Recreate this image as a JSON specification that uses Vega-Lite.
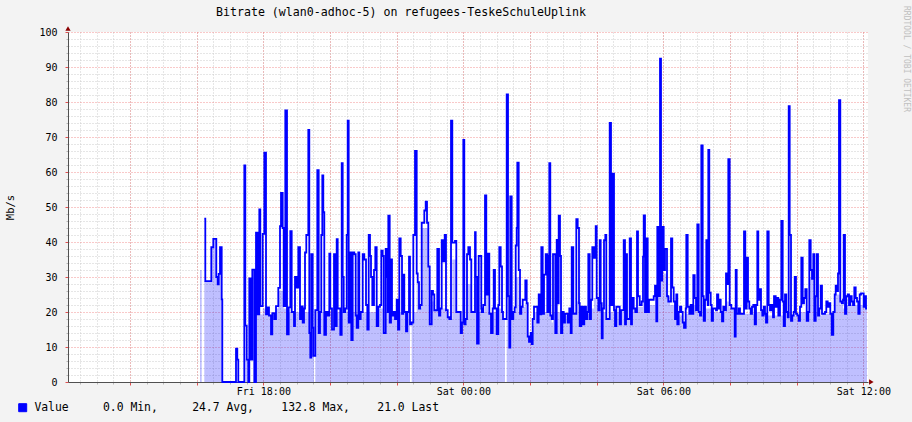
{
"$schema":"https://vega.github.io/schema/vega-lite/v6.json",
"width":800,"height":350,
"autosize":{"type":"none"},
"padding":{"left":68,"top":32,"right":44,"bottom":40},
"background":"#f3f3f3",
"config":{"view":{"fill":"#ffffff","stroke":null},"axis":{"labelFont":"DejaVu Sans Mono","titleFont":"DejaVu Sans Mono"}},
"datasets":{
"line":[
{"t":16.229,"v":46.7,"s":"Value"},{"t":16.259,"v":28.8,"s":"Value"},{"t":16.439,"v":38.5,"s":"Value"},{"t":16.499,"v":40.9,"s":"Value"},{"t":16.589,"v":30,"s":"Value"},{"t":16.631,"v":27.9,"s":"Value"},{"t":16.661,"v":30.9,"s":"Value"},{"t":16.7,"v":38.5,"s":"Value"},{"t":16.751,"v":23.6,"s":"Value"},{"t":16.769,"v":0,"s":"Value"},
{"t":17.18,"v":9.5,"s":"Value"},{"t":17.219,"v":6.4,"s":"Value"},{"t":17.249,"v":0,"s":"Value"},{"t":17.429,"v":61.9,"s":"Value"},{"t":17.459,"v":16.1,"s":"Value"},{"t":17.501,"v":6.4,"s":"Value"},{"t":17.549,"v":0,"s":"Value"},{"t":17.579,"v":29.6,"s":"Value"},{"t":17.621,"v":6.4,"s":"Value"},{"t":17.669,"v":32.1,"s":"Value"},
{"t":17.729,"v":0,"s":"Value"},{"t":17.78,"v":42.7,"s":"Value"},{"t":17.831,"v":19.3,"s":"Value"},{"t":17.879,"v":49.3,"s":"Value"},{"t":17.909,"v":21.7,"s":"Value"},{"t":17.981,"v":42.3,"s":"Value"},{"t":18.029,"v":65.5,"s":"Value"},{"t":18.08,"v":19.3,"s":"Value"},{"t":18.131,"v":21.3,"s":"Value"},{"t":18.17,"v":19,"s":"Value"},
{"t":18.23,"v":13.6,"s":"Value"},{"t":18.269,"v":19.7,"s":"Value"},{"t":18.329,"v":18,"s":"Value"},{"t":18.38,"v":21.7,"s":"Value"},{"t":18.449,"v":26.9,"s":"Value"},{"t":18.5,"v":44.5,"s":"Value"},{"t":18.53,"v":54,"s":"Value"},{"t":18.581,"v":44,"s":"Value"},{"t":18.611,"v":21.7,"s":"Value"},{"t":18.659,"v":77.6,"s":"Value"},
{"t":18.71,"v":13.6,"s":"Value"},{"t":18.761,"v":21.3,"s":"Value"},{"t":18.809,"v":43.1,"s":"Value"},{"t":18.851,"v":20,"s":"Value"},{"t":18.92,"v":16,"s":"Value"},{"t":18.95,"v":30,"s":"Value"},{"t":19.001,"v":27,"s":"Value"},{"t":19.049,"v":38.5,"s":"Value"},{"t":19.1,"v":18,"s":"Value"},{"t":19.151,"v":21.6,"s":"Value"},
{"t":19.181,"v":17,"s":"Value"},{"t":19.22,"v":21,"s":"Value"},{"t":19.25,"v":37,"s":"Value"},{"t":19.289,"v":42,"s":"Value"},{"t":19.349,"v":72,"s":"Value"},{"t":19.379,"v":14,"s":"Value"},{"t":19.409,"v":7,"s":"Value"},{"t":19.439,"v":36.5,"s":"Value"},{"t":19.481,"v":15.5,"s":"Value"},{"t":19.499,"v":7.5,"s":"Value"},
{"t":19.559,"v":20.5,"s":"Value"},{"t":19.619,"v":60.5,"s":"Value"},{"t":19.661,"v":14,"s":"Value"},{"t":19.7,"v":20,"s":"Value"},{"t":19.739,"v":42,"s":"Value"},{"t":19.769,"v":59,"s":"Value"},{"t":19.799,"v":48.5,"s":"Value"},{"t":19.829,"v":13.5,"s":"Value"},{"t":19.88,"v":20,"s":"Value"},{"t":19.931,"v":19,"s":"Value"},
{"t":19.979,"v":36.7,"s":"Value"},{"t":20.009,"v":21,"s":"Value"},{"t":20.06,"v":15,"s":"Value"},{"t":20.12,"v":36.5,"s":"Value"},{"t":20.159,"v":16,"s":"Value"},{"t":20.201,"v":40.8,"s":"Value"},{"t":20.231,"v":21,"s":"Value"},{"t":20.279,"v":21,"s":"Value"},{"t":20.309,"v":13.5,"s":"Value"},{"t":20.351,"v":62.5,"s":"Value"},
{"t":20.381,"v":30,"s":"Value"},{"t":20.411,"v":20,"s":"Value"},{"t":20.459,"v":21,"s":"Value"},{"t":20.501,"v":42,"s":"Value"},{"t":20.531,"v":74.7,"s":"Value"},{"t":20.561,"v":17,"s":"Value"},{"t":20.6,"v":37,"s":"Value"},{"t":20.639,"v":12,"s":"Value"},{"t":20.681,"v":37,"s":"Value"},{"t":20.729,"v":36.5,"s":"Value"},
{"t":20.771,"v":19,"s":"Value"},{"t":20.801,"v":15.5,"s":"Value"},{"t":20.849,"v":37,"s":"Value"},{"t":20.879,"v":18,"s":"Value"},{"t":20.921,"v":20,"s":"Value"},{"t":20.981,"v":36.5,"s":"Value"},{"t":21.029,"v":35,"s":"Value"},{"t":21.08,"v":22,"s":"Value"},{"t":21.119,"v":15,"s":"Value"},{"t":21.161,"v":42,"s":"Value"},
{"t":21.2,"v":36,"s":"Value"},{"t":21.23,"v":30,"s":"Value"},{"t":21.269,"v":22,"s":"Value"},{"t":21.32,"v":32,"s":"Value"},{"t":21.359,"v":38.5,"s":"Value"},{"t":21.401,"v":16,"s":"Value"},{"t":21.449,"v":21.5,"s":"Value"},{"t":21.5,"v":22,"s":"Value"},{"t":21.539,"v":37.5,"s":"Value"},{"t":21.581,"v":36,"s":"Value"},
{"t":21.611,"v":14,"s":"Value"},{"t":21.671,"v":38,"s":"Value"},{"t":21.71,"v":30,"s":"Value"},{"t":21.731,"v":20,"s":"Value"},{"t":21.749,"v":47.5,"s":"Value"},{"t":21.791,"v":17,"s":"Value"},{"t":21.83,"v":35,"s":"Value"},{"t":21.86,"v":19,"s":"Value"},{"t":21.911,"v":20,"s":"Value"},{"t":21.95,"v":18,"s":"Value"},
{"t":22.001,"v":23.5,"s":"Value"},{"t":22.04,"v":15,"s":"Value"},{"t":22.079,"v":41,"s":"Value"},{"t":22.121,"v":36,"s":"Value"},{"t":22.16,"v":19.5,"s":"Value"},{"t":22.199,"v":30.7,"s":"Value"},{"t":22.229,"v":20,"s":"Value"},{"t":22.28,"v":14.5,"s":"Value"},{"t":22.319,"v":20,"s":"Value"},{"t":22.37,"v":35.8,"s":"Value"},
{"t":22.4,"v":16.5,"s":"Value"},{"t":22.451,"v":17,"s":"Value"},{"t":22.499,"v":42,"s":"Value"},{"t":22.55,"v":66,"s":"Value"},{"t":22.601,"v":31,"s":"Value"},{"t":22.631,"v":28.5,"s":"Value"},{"t":22.67,"v":21,"s":"Value"},{"t":22.709,"v":22,"s":"Value"},{"t":22.751,"v":45.5,"s":"Value"},{"t":22.829,"v":49,"s":"Value"},
{"t":22.871,"v":51.5,"s":"Value"},{"t":22.91,"v":45.5,"s":"Value"},{"t":22.949,"v":33,"s":"Value"},{"t":22.991,"v":16.5,"s":"Value"},{"t":23.051,"v":26,"s":"Value"},{"t":23.09,"v":25,"s":"Value"},{"t":23.129,"v":20.5,"s":"Value"},{"t":23.219,"v":38,"s":"Value"},{"t":23.27,"v":19,"s":"Value"},{"t":23.309,"v":21,"s":"Value"},
{"t":23.351,"v":40.5,"s":"Value"},{"t":23.399,"v":34.5,"s":"Value"},{"t":23.441,"v":42,"s":"Value"},{"t":23.48,"v":20.5,"s":"Value"},{"t":23.531,"v":18.5,"s":"Value"},{"t":23.579,"v":18,"s":"Value"},{"t":23.63,"v":74.7,"s":"Value"},{"t":23.669,"v":39.8,"s":"Value"},{"t":23.75,"v":40.3,"s":"Value"},{"t":23.789,"v":20,"s":"Value"},
{"t":23.921,"v":14,"s":"Value"},{"t":23.96,"v":17,"s":"Value"},{"t":23.999,"v":69.2,"s":"Value"},{"t":24.029,"v":16.5,"s":"Value"},{"t":24.071,"v":18,"s":"Value"},{"t":24.11,"v":36.5,"s":"Value"},{"t":24.149,"v":38.5,"s":"Value"},{"t":24.2,"v":35,"s":"Value"},{"t":24.239,"v":20,"s":"Value"},{"t":24.35,"v":42.8,"s":"Value"},
{"t":24.371,"v":30,"s":"Value"},{"t":24.41,"v":11,"s":"Value"},{"t":24.461,"v":36,"s":"Value"},{"t":24.539,"v":21,"s":"Value"},{"t":24.551,"v":20,"s":"Value"},{"t":24.599,"v":22,"s":"Value"},{"t":24.65,"v":53.3,"s":"Value"},{"t":24.689,"v":25,"s":"Value"},{"t":24.74,"v":36.7,"s":"Value"},{"t":24.779,"v":19.5,"s":"Value"},
{"t":24.83,"v":14,"s":"Value"},{"t":24.881,"v":21,"s":"Value"},{"t":24.911,"v":32,"s":"Value"},{"t":24.95,"v":21,"s":"Value"},{"t":25.001,"v":13.7,"s":"Value"},{"t":25.049,"v":22,"s":"Value"},{"t":25.079,"v":38.5,"s":"Value"},{"t":25.121,"v":33,"s":"Value"},{"t":25.16,"v":20,"s":"Value"},{"t":25.19,"v":18,"s":"Value"},
{"t":25.301,"v":82.2,"s":"Value"},{"t":25.34,"v":24.5,"s":"Value"},{"t":25.379,"v":9.8,"s":"Value"},{"t":25.409,"v":53,"s":"Value"},{"t":25.451,"v":18,"s":"Value"},{"t":25.499,"v":20,"s":"Value"},{"t":25.541,"v":21.3,"s":"Value"},{"t":25.571,"v":39,"s":"Value"},{"t":25.601,"v":44,"s":"Value"},{"t":25.619,"v":62.7,"s":"Value"},
{"t":25.661,"v":32,"s":"Value"},{"t":25.7,"v":19.5,"s":"Value"},{"t":25.739,"v":21.5,"s":"Value"},{"t":25.781,"v":23.5,"s":"Value"},{"t":25.859,"v":29,"s":"Value"},{"t":25.901,"v":22.5,"s":"Value"},{"t":25.931,"v":13,"s":"Value"},{"t":25.97,"v":11.5,"s":"Value"},{"t":26.021,"v":14,"s":"Value"},{"t":26.051,"v":10.8,"s":"Value"},
{"t":26.081,"v":18,"s":"Value"},{"t":26.12,"v":21.5,"s":"Value"},{"t":26.219,"v":17,"s":"Value"},{"t":26.261,"v":25,"s":"Value"},{"t":26.291,"v":19.3,"s":"Value"},{"t":26.339,"v":38.5,"s":"Value"},{"t":26.381,"v":19.5,"s":"Value"},{"t":26.42,"v":30.7,"s":"Value"},{"t":26.471,"v":36.5,"s":"Value"},{"t":26.519,"v":20,"s":"Value"},
{"t":26.561,"v":36,"s":"Value"},{"t":26.579,"v":62.5,"s":"Value"},{"t":26.609,"v":19,"s":"Value"},{"t":26.651,"v":18,"s":"Value"},{"t":26.69,"v":36.5,"s":"Value"},{"t":26.759,"v":14,"s":"Value"},{"t":26.801,"v":40.6,"s":"Value"},{"t":26.831,"v":22.5,"s":"Value"},{"t":26.861,"v":47.5,"s":"Value"},{"t":26.9,"v":36,"s":"Value"},
{"t":26.93,"v":14,"s":"Value"},{"t":26.969,"v":20,"s":"Value"},{"t":27.011,"v":17,"s":"Value"},{"t":27.05,"v":19.5,"s":"Value"},{"t":27.131,"v":17,"s":"Value"},{"t":27.179,"v":21,"s":"Value"},{"t":27.221,"v":14,"s":"Value"},{"t":27.251,"v":38.5,"s":"Value"},{"t":27.299,"v":19.5,"s":"Value"},{"t":27.389,"v":46.5,"s":"Value"},
{"t":27.431,"v":44,"s":"Value"},{"t":27.47,"v":22.5,"s":"Value"},{"t":27.491,"v":16,"s":"Value"},{"t":27.539,"v":21.5,"s":"Value"},{"t":27.581,"v":16.5,"s":"Value"},{"t":27.629,"v":21.5,"s":"Value"},{"t":27.68,"v":18,"s":"Value"},{"t":27.719,"v":20,"s":"Value"},{"t":27.749,"v":36.5,"s":"Value"},{"t":27.791,"v":18,"s":"Value"},
{"t":27.83,"v":23.5,"s":"Value"},{"t":27.869,"v":38.5,"s":"Value"},{"t":27.92,"v":35.5,"s":"Value"},{"t":27.971,"v":44.5,"s":"Value"},{"t":28.001,"v":24,"s":"Value"},{"t":28.049,"v":20.5,"s":"Value"},{"t":28.091,"v":40.5,"s":"Value"},{"t":28.121,"v":22.5,"s":"Value"},{"t":28.151,"v":12.5,"s":"Value"},{"t":28.181,"v":21,"s":"Value"},
{"t":28.22,"v":40.5,"s":"Value"},{"t":28.259,"v":42,"s":"Value"},{"t":28.289,"v":18,"s":"Value"},{"t":28.391,"v":74,"s":"Value"},{"t":28.43,"v":22,"s":"Value"},{"t":28.481,"v":59.5,"s":"Value"},{"t":28.52,"v":20.5,"s":"Value"},{"t":28.55,"v":16,"s":"Value"},{"t":28.589,"v":21.5,"s":"Value"},{"t":28.691,"v":16.5,"s":"Value"},
{"t":28.73,"v":20.5,"s":"Value"},{"t":28.811,"v":40.5,"s":"Value"},{"t":28.85,"v":16.5,"s":"Value"},{"t":28.88,"v":36.5,"s":"Value"},{"t":28.91,"v":18,"s":"Value"},{"t":28.991,"v":41,"s":"Value"},{"t":29.03,"v":16.5,"s":"Value"},{"t":29.06,"v":24,"s":"Value"},{"t":29.111,"v":21,"s":"Value"},{"t":29.159,"v":20,"s":"Value"},
{"t":29.21,"v":43,"s":"Value"},{"t":29.24,"v":24.5,"s":"Value"},{"t":29.291,"v":22,"s":"Value"},{"t":29.351,"v":23,"s":"Value"},{"t":29.39,"v":35.8,"s":"Value"},{"t":29.411,"v":47.6,"s":"Value"},{"t":29.45,"v":20,"s":"Value"},{"t":29.489,"v":41,"s":"Value"},{"t":29.531,"v":20,"s":"Value"},{"t":29.57,"v":23.5,"s":"Value"},
{"t":29.711,"v":24.5,"s":"Value"},{"t":29.75,"v":27.5,"s":"Value"},{"t":29.789,"v":17.3,"s":"Value"},{"t":29.819,"v":44.3,"s":"Value"},{"t":29.861,"v":24.5,"s":"Value"},{"t":29.9,"v":92.4,"s":"Value"},{"t":29.93,"v":29,"s":"Value"},{"t":29.969,"v":44.3,"s":"Value"},{"t":30.011,"v":32,"s":"Value"},{"t":30.05,"v":38,"s":"Value"},
{"t":30.11,"v":24.5,"s":"Value"},{"t":30.149,"v":23,"s":"Value"},{"t":30.23,"v":41,"s":"Value"},{"t":30.269,"v":27,"s":"Value"},{"t":30.311,"v":23,"s":"Value"},{"t":30.35,"v":18,"s":"Value"},{"t":30.389,"v":25,"s":"Value"},{"t":30.419,"v":16.5,"s":"Value"},{"t":30.461,"v":20,"s":"Value"},{"t":30.5,"v":21.5,"s":"Value"},
{"t":30.539,"v":20,"s":"Value"},{"t":30.581,"v":17,"s":"Value"},{"t":30.62,"v":15.5,"s":"Value"},{"t":30.671,"v":21,"s":"Value"},{"t":30.689,"v":42,"s":"Value"},{"t":30.731,"v":21.5,"s":"Value"},{"t":30.779,"v":19.5,"s":"Value"},{"t":30.821,"v":22,"s":"Value"},{"t":30.869,"v":19.5,"s":"Value"},{"t":30.899,"v":30.5,"s":"Value"},
{"t":30.941,"v":24,"s":"Value"},{"t":30.98,"v":20.5,"s":"Value"},{"t":31.019,"v":45,"s":"Value"},{"t":31.061,"v":20,"s":"Value"},{"t":31.1,"v":19,"s":"Value"},{"t":31.139,"v":67.6,"s":"Value"},{"t":31.181,"v":24.5,"s":"Value"},{"t":31.211,"v":17.5,"s":"Value"},{"t":31.25,"v":23.5,"s":"Value"},{"t":31.289,"v":40.5,"s":"Value"},
{"t":31.331,"v":22,"s":"Value"},{"t":31.349,"v":66.3,"s":"Value"},{"t":31.379,"v":25.5,"s":"Value"},{"t":31.421,"v":22,"s":"Value"},{"t":31.451,"v":17.5,"s":"Value"},{"t":31.49,"v":21,"s":"Value"},{"t":31.58,"v":20.5,"s":"Value"},{"t":31.61,"v":25,"s":"Value"},{"t":31.649,"v":21,"s":"Value"},{"t":31.691,"v":23.5,"s":"Value"},
{"t":31.721,"v":20,"s":"Value"},{"t":31.76,"v":17.3,"s":"Value"},{"t":31.799,"v":21.5,"s":"Value"},{"t":31.85,"v":20.5,"s":"Value"},{"t":31.88,"v":31,"s":"Value"},{"t":31.919,"v":28,"s":"Value"},{"t":31.949,"v":63.7,"s":"Value"},{"t":31.991,"v":22,"s":"Value"},{"t":32.039,"v":21,"s":"Value"},{"t":32.141,"v":13,"s":"Value"},
{"t":32.171,"v":32,"s":"Value"},{"t":32.201,"v":19.5,"s":"Value"},{"t":32.261,"v":21,"s":"Value"},{"t":32.3,"v":19.5,"s":"Value"},{"t":32.42,"v":43,"s":"Value"},{"t":32.459,"v":21,"s":"Value"},{"t":32.501,"v":35.5,"s":"Value"},{"t":32.54,"v":23,"s":"Value"},{"t":32.579,"v":21,"s":"Value"},{"t":32.621,"v":19.5,"s":"Value"},
{"t":32.66,"v":21.5,"s":"Value"},{"t":32.699,"v":22,"s":"Value"},{"t":32.741,"v":16.5,"s":"Value"},{"t":32.78,"v":22,"s":"Value"},{"t":32.819,"v":43,"s":"Value"},{"t":32.849,"v":23.5,"s":"Value"},{"t":32.891,"v":26.5,"s":"Value"},{"t":32.93,"v":20.5,"s":"Value"},{"t":32.969,"v":19,"s":"Value"},{"t":33.011,"v":21.5,"s":"Value"},
{"t":33.05,"v":19.5,"s":"Value"},{"t":33.08,"v":17,"s":"Value"},{"t":33.119,"v":43,"s":"Value"},{"t":33.161,"v":22,"s":"Value"},{"t":33.2,"v":20.5,"s":"Value"},{"t":33.239,"v":22,"s":"Value"},{"t":33.29,"v":18.5,"s":"Value"},{"t":33.32,"v":24.5,"s":"Value"},{"t":33.371,"v":21.5,"s":"Value"},{"t":33.41,"v":24,"s":"Value"},
{"t":33.449,"v":19,"s":"Value"},{"t":33.5,"v":23.5,"s":"Value"},{"t":33.539,"v":46,"s":"Value"},{"t":33.581,"v":23,"s":"Value"},{"t":33.611,"v":16,"s":"Value"},{"t":33.65,"v":25,"s":"Value"},{"t":33.689,"v":20,"s":"Value"},{"t":33.731,"v":18.5,"s":"Value"},{"t":33.761,"v":78.8,"s":"Value"},{"t":33.791,"v":42,"s":"Value"},
{"t":33.83,"v":17.5,"s":"Value"},{"t":33.869,"v":19,"s":"Value"},{"t":33.911,"v":20,"s":"Value"},{"t":33.941,"v":30,"s":"Value"},{"t":33.98,"v":19.5,"s":"Value"},{"t":34.019,"v":19,"s":"Value"},{"t":34.061,"v":17.5,"s":"Value"},{"t":34.1,"v":21.5,"s":"Value"},{"t":34.139,"v":35.5,"s":"Value"},{"t":34.181,"v":22.5,"s":"Value"},
{"t":34.22,"v":24,"s":"Value"},{"t":34.259,"v":26.5,"s":"Value"},{"t":34.301,"v":17.5,"s":"Value"},{"t":34.349,"v":20,"s":"Value"},{"t":34.379,"v":40.5,"s":"Value"},{"t":34.421,"v":32,"s":"Value"},{"t":34.46,"v":29.5,"s":"Value"},{"t":34.499,"v":36.5,"s":"Value"},{"t":34.529,"v":17.5,"s":"Value"},{"t":34.571,"v":24.5,"s":"Value"},
{"t":34.601,"v":36.5,"s":"Value"},{"t":34.64,"v":19,"s":"Value"},{"t":34.679,"v":21,"s":"Value"},{"t":34.721,"v":27.5,"s":"Value"},{"t":34.76,"v":19.5,"s":"Value"},{"t":34.85,"v":20,"s":"Value"},{"t":34.889,"v":23,"s":"Value"},{"t":34.931,"v":21.5,"s":"Value"},{"t":34.97,"v":22.5,"s":"Value"},{"t":35.009,"v":19.5,"s":"Value"},
{"t":35.051,"v":13.5,"s":"Value"},{"t":35.099,"v":20,"s":"Value"},{"t":35.141,"v":25,"s":"Value"},{"t":35.171,"v":27.5,"s":"Value"},{"t":35.21,"v":26,"s":"Value"},{"t":35.24,"v":31,"s":"Value"},{"t":35.27,"v":80.5,"s":"Value"},{"t":35.309,"v":23,"s":"Value"},{"t":35.351,"v":22.5,"s":"Value"},{"t":35.39,"v":23.5,"s":"Value"},
{"t":35.411,"v":42,"s":"Value"},{"t":35.45,"v":19.5,"s":"Value"},{"t":35.489,"v":24.5,"s":"Value"},{"t":35.531,"v":25,"s":"Value"},{"t":35.57,"v":22,"s":"Value"},{"t":35.609,"v":24.5,"s":"Value"},{"t":35.651,"v":23,"s":"Value"},{"t":35.69,"v":22,"s":"Value"},{"t":35.729,"v":27,"s":"Value"},{"t":35.771,"v":24,"s":"Value"},
{"t":35.81,"v":23,"s":"Value"},{"t":35.849,"v":19.5,"s":"Value"},{"t":35.891,"v":25,"s":"Value"},{"t":35.93,"v":25.3,"s":"Value"},{"t":36.011,"v":21.5,"s":"Value"},{"t":36.05,"v":24.5,"s":"Value"},{"t":36.08,"v":21,"s":"Value"},{"t":36.11,"v":21,"s":"Value"}
],
"area":[
{"t":16.1,"a":32},{"t":16.151,"a":0},{"t":16.229,"a":28.8},{"t":16.439,"a":38.5},{"t":16.499,"a":40.9},{"t":16.589,"a":30},{"t":16.631,"a":27.9},{"t":16.661,"a":30.9},{"t":16.7,"a":38.5},{"t":16.751,"a":23.6},{"t":16.769,"a":0},
{"t":17.459,"a":6.4},{"t":17.549,"a":0},{"t":17.78,"a":19.3},{"t":17.981,"a":21},{"t":18.08,"a":19.3},{"t":18.23,"a":13.6},{"t":18.269,"a":19.5},{"t":18.38,"a":21},{"t":18.449,"a":26},{"t":18.611,"a":21},
{"t":18.71,"a":13.6},{"t":18.761,"a":20},{"t":18.92,"a":16},{"t":18.95,"a":20},{"t":19.1,"a":18},{"t":19.22,"a":20},{"t":19.379,"a":14},{"t":19.409,"a":7},{"t":19.439,"a":15},{"t":19.499,"a":7.5},
{"t":19.52,"a":0},{"t":19.559,"a":20},{"t":19.661,"a":14},{"t":19.7,"a":20},{"t":19.829,"a":13.5},{"t":19.88,"a":20},{"t":20.06,"a":15},{"t":20.12,"a":20},{"t":20.159,"a":16},{"t":20.201,"a":20},
{"t":20.309,"a":13.5},{"t":20.351,"a":20},{"t":20.561,"a":17},{"t":20.6,"a":20},{"t":20.639,"a":12},{"t":20.681,"a":20},{"t":20.801,"a":15.5},{"t":20.849,"a":18},{"t":20.921,"a":20},{"t":21.119,"a":15},
{"t":21.161,"a":20},{"t":21.401,"a":16},{"t":21.449,"a":21},{"t":21.611,"a":14},{"t":21.671,"a":20},{"t":21.791,"a":17},{"t":21.83,"a":19},{"t":22.04,"a":15},{"t":22.079,"a":20},{"t":22.28,"a":14.5},
{"t":22.319,"a":20},{"t":22.4,"a":0},{"t":22.451,"a":17},{"t":22.499,"a":20},{"t":22.601,"a":28.5},{"t":22.67,"a":21},{"t":22.751,"a":44},{"t":22.949,"a":33},{"t":22.991,"a":16.5},{"t":23.051,"a":23},
{"t":23.129,"a":20.5},{"t":23.27,"a":19},{"t":23.309,"a":21},{"t":23.48,"a":20},{"t":23.531,"a":18.5},{"t":23.63,"a":18},{"t":23.669,"a":35},{"t":23.789,"a":20},{"t":23.921,"a":14},{"t":23.96,"a":17},
{"t":24.029,"a":16.5},{"t":24.11,"a":28},{"t":24.239,"a":20},{"t":24.35,"a":28},{"t":24.38,"a":11},{"t":24.47,"a":20},{"t":24.65,"a":25},{"t":24.74,"a":20},{"t":24.83,"a":14},{"t":24.881,"a":20},
{"t":25.001,"a":13.7},{"t":25.049,"a":21},{"t":25.19,"a":18},{"t":25.25,"a":0},{"t":25.301,"a":18},{"t":25.34,"a":24},{"t":25.379,"a":9.8},{"t":25.409,"a":18},{"t":25.499,"a":20},{"t":25.571,"a":30},
{"t":25.661,"a":20},{"t":25.739,"a":21.5},{"t":25.859,"a":22.5},{"t":25.931,"a":13},{"t":25.97,"a":11.5},{"t":26.051,"a":10.8},{"t":26.081,"a":16},{"t":26.12,"a":20},{"t":26.219,"a":17},{"t":26.261,"a":20},
{"t":26.609,"a":19},{"t":26.651,"a":17},{"t":26.69,"a":20},{"t":26.759,"a":14},{"t":26.801,"a":20},{"t":26.93,"a":14},{"t":26.969,"a":19},{"t":27.131,"a":17},{"t":27.179,"a":19},{"t":27.221,"a":14},
{"t":27.251,"a":20},{"t":27.389,"a":23},{"t":27.491,"a":16},{"t":27.539,"a":20},{"t":27.581,"a":16.5},{"t":27.629,"a":20},{"t":27.68,"a":18},{"t":27.719,"a":19.5},{"t":27.791,"a":18},{"t":27.83,"a":21},
{"t":27.92,"a":24},{"t":28.001,"a":22},{"t":28.049,"a":20.5},{"t":28.151,"a":12.5},{"t":28.181,"a":20},{"t":28.289,"a":18},{"t":28.391,"a":20},{"t":28.55,"a":16},{"t":28.589,"a":20},{"t":28.691,"a":16.5},
{"t":28.73,"a":20},{"t":28.85,"a":16.5},{"t":28.88,"a":20},{"t":28.91,"a":18},{"t":28.991,"a":20},{"t":29.03,"a":16.5},{"t":29.06,"a":21},{"t":29.24,"a":21.5},{"t":29.39,"a":23},{"t":29.45,"a":20},
{"t":29.57,"a":22},{"t":29.75,"a":24},{"t":29.789,"a":17.3},{"t":29.819,"a":24},{"t":29.93,"a":29},{"t":30.011,"a":31},{"t":30.11,"a":24.5},{"t":30.2,"a":22},{"t":30.35,"a":18},{"t":30.389,"a":20},
{"t":30.419,"a":16.5},{"t":30.461,"a":19},{"t":30.581,"a":17},{"t":30.62,"a":15.5},{"t":30.671,"a":19.5},{"t":30.899,"a":22},{"t":30.98,"a":20},{"t":31.139,"a":19},{"t":31.181,"a":24},{"t":31.211,"a":17.5},
{"t":31.25,"a":21},{"t":31.451,"a":17.5},{"t":31.49,"a":20},{"t":31.76,"a":17.3},{"t":31.799,"a":20},{"t":31.88,"a":23},{"t":31.991,"a":21},{"t":32.141,"a":13},{"t":32.171,"a":19.5},{"t":32.741,"a":16.5},
{"t":32.78,"a":20},{"t":33.08,"a":17},{"t":33.119,"a":19},{"t":33.611,"a":16},{"t":33.65,"a":20},{"t":33.83,"a":17.5},{"t":33.869,"a":19},{"t":34.061,"a":17.5},{"t":34.1,"a":20},{"t":34.301,"a":17.5},
{"t":34.349,"a":20},{"t":34.379,"a":30},{"t":34.529,"a":17.5},{"t":34.571,"a":20},{"t":34.64,"a":19},{"t":34.76,"a":19.5},{"t":35.051,"a":13.5},{"t":35.099,"a":20},{"t":35.141,"a":25},{"t":35.309,"a":22},
{"t":35.39,"a":21},{"t":35.45,"a":19.5},{"t":35.489,"a":22},{"t":36.11,"a":22}
],
"arrows":[{"t":12.14,"v":101,"shp":"triangle-up"},{"t":36.24,"v":0,"shp":"triangle-right"}]
},
"layer":[
{
"data":{"name":"area"},
"mark":{"type":"area","interpolate":"step-after","color":"#0000ff","fillOpacity":0.25},
"encoding":{
"x":{"field":"t","type":"quantitative","scale":{"domain":[12.14,36.14],"nice":false,"zero":false},
"axis":{"orient":"bottom","values":[12.5,13,13.5,14,14.5,15,15.5,16,16.5,17,17.5,18,18.5,19,19.5,20,20.5,21,21.5,22,22.5,23,23.5,24,24.5,25,25.5,26,26.5,27,27.5,28,28.5,29,29.5,30,30.5,31,31.5,32,32.5,33,33.5,34,34.5,35,35.5,36],"grid":true,"gridColor":"#cccccc","gridDash":[1,2],"labels":false,"ticks":true,"tickColor":"#b8b8b8","tickSize":2,"domain":false,"title":null}},
"y":{"field":"a","type":"quantitative","scale":{"domain":[0,100],"nice":false},
"axis":{"orient":"left","values":[2,4,6,8,12,14,16,18,22,24,26,28,32,34,36,38,42,44,46,48,52,54,56,58,62,64,66,68,72,74,76,78,82,84,86,88,92,94,96,98],"grid":true,"gridColor":"#cccccc","gridDash":[1,2],"labels":false,"ticks":true,"tickColor":"#b8b8b8","tickSize":2,"domain":false,"title":null}}
}
},
{
"data":{"name":"line"},
"mark":{"type":"line","interpolate":"step-after","strokeWidth":1.8},
"encoding":{
"x":{"field":"t","type":"quantitative",
"axis":{"orient":"bottom","values":[14,16,18,20,22,24,26,28,30,32,34,36],"labelExpr":"datum.value==18?'Fri 18:00':datum.value==24?'Sat 00:00':datum.value==30?'Sat 06:00':datum.value==36?'Sat 12:00':''","labelOverlap":false,"grid":true,"gridColor":"#f08080","gridDash":[1,2],"gridOpacity":0.85,"ticks":true,"tickColor":"#e05050","tickSize":3,"domain":true,"domainColor":"#505050","labelFontSize":10,"labelColor":"#000000","labelPadding":1,"title":null}},
"y":{"field":"v","type":"quantitative",
"axis":{"orient":"left","values":[0,10,20,30,40,50,60,70,80,90,100],"grid":true,"gridColor":"#f08080","gridDash":[1,2],"gridOpacity":0.85,"ticks":true,"tickColor":"#e05050","tickSize":3,"domain":true,"domainColor":"#505050","labelFontSize":10,"labelColor":"#000000","labelPadding":8,"title":"Mb/s","titleFontSize":10.5,"titleFontWeight":"normal","titleColor":"#000000","titleAngle":-90,"titleX":-58,"titleY":175,"titleAlign":"center","titleBaseline":"middle"}},
"color":{"field":"s","type":"nominal","scale":{"domain":["Value"],"range":["#0000ff"]},
"legend":{"orient":"none","legendX":-51,"legendY":370,"padding":0,"title":null,"labelFont":"DejaVu Sans Mono","labelFontSize":11.4,"labelColor":"#000000","labelOffset":6,"labelLimit":0,"symbolType":"square","symbolSize":64,
"labelExpr":"'Value\u00a0\u00a0\u00a0\u00a0\u00a00.0\u00a0Min,\u00a0\u00a0\u00a0\u00a0\u00a024.7\u00a0Avg,\u00a0\u00a0\u00a0\u00a0132.8\u00a0Max,\u00a0\u00a0\u00a0\u00a021.0\u00a0Last'",
"encode":{"symbols":{"update":{"fill":{"value":"#0000ff"},"stroke":{"value":"#000000"},"strokeWidth":{"value":1},"opacity":{"value":1}}}}}}
}
},
{
"data":{"name":"arrows"},
"mark":{"type":"point","filled":true,"opacity":1,"color":"#8b0000","size":28},
"encoding":{
"x":{"field":"t","type":"quantitative","axis":{"orient":"top","labels":false,"ticks":false,"domain":false,"grid":false,"title":"Bitrate (wlan0-adhoc-5) on refugees-TeskeSchuleUplink","titleFont":"DejaVu Sans Mono","titleFontSize":11.6,"titleFontWeight":"normal","titleColor":"#000000","titleX":332.5,"titleY":-17,"titleAlign":"center","titleBaseline":"alphabetic"}},
"y":{"field":"v","type":"quantitative","axis":{"orient":"right","labels":false,"ticks":false,"domain":false,"grid":false,"title":"RRDTOOL / TOBI OETIKER","titleFont":"DejaVu Sans Mono","titleFontSize":8,"titleFontWeight":"normal","titleColor":"#c0c0c0","titleAngle":90,"titleX":37,"titleY":26.5,"titleAlign":"center","titleBaseline":"middle"}},
"shape":{"field":"shp","type":"nominal","scale":null,"legend":null}
}
}
],
"resolve":{"axis":{"x":"independent","y":"independent"}}
}
